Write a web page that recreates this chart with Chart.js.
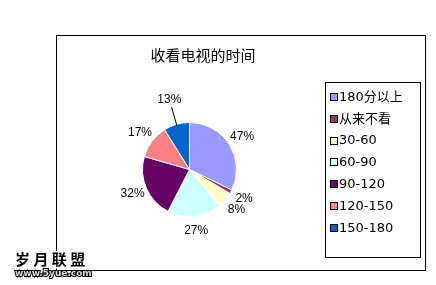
<!DOCTYPE html>
<html>
<head>
<meta charset="utf-8">
<script src="https://cdn.jsdelivr.net/npm/chart.js@4/dist/chart.umd.min.js"></script>
<style>
  html, body { margin: 0; padding: 0; background: #fff; }
  #wrap { width: 436px; height: 285px; }
</style>
</head>
<body>
<div id="wrap"><canvas id="c" width="436" height="285"></canvas></div>
<script>
// 收看电视的时间 — share of viewers per daily TV time bracket
const titleText = '收看电视的时间';
const categories = ['180分以上', '从来不看', '30-60', '60-90', '90-120', '120-150', '150-180'];
const shares = [47, 2, 8, 27, 32, 17, 13];
const sliceColors = ['#9999FF', '#993366', '#FFFFCC', '#CCFFFF', '#660066', '#FF8080', '#0066CC'];
const siteName = '岁月联盟';
const siteUrl = 'www.5yue.com';

const CJK = '"Noto Sans CJK SC"';

// frames, title, legend, value labels and site mark
const decorations = {
  id: 'decorations',
  beforeDraw(chart) {
    const ctx = chart.ctx;
    ctx.save();
    ctx.fillStyle = '#fff';
    ctx.fillRect(0, 0, chart.width, chart.height);
    ctx.strokeStyle = '#000';
    ctx.lineWidth = 1;
    ctx.strokeRect(56.5, 35.5, 369, 235);
    ctx.restore();
  },
  afterDraw(chart) {
    const ctx = chart.ctx;
    ctx.save();

    // title
    ctx.fillStyle = '#000';
    ctx.font = '15px ' + CJK;
    ctx.textAlign = 'center';
    ctx.textBaseline = 'middle';
    ctx.fillText(titleText, 203, 55);

    // legend box
    ctx.strokeStyle = '#000';
    ctx.lineWidth = 1;
    ctx.strokeRect(325.5, 82.5, 95, 175);
    const ds = chart.data.datasets[0];
    ctx.textAlign = 'left';
    ctx.font = '13px "DejaVu Sans", ' + CJK;
    chart.data.labels.forEach((lab, i) => {
      const y = 97 + i * 21.8;
      ctx.fillStyle = ds.backgroundColor[i];
      ctx.fillRect(330.5, Math.round(y) - 3.5, 7, 7);
      ctx.strokeStyle = '#000';
      ctx.strokeRect(330.5, Math.round(y) - 3.5, 7, 7);
      ctx.fillStyle = '#000';
      ctx.fillText(lab, 339, y + 0.5);
    });

    // value labels outside each slice
    const meta = chart.getDatasetMeta(0);
    ctx.font = '12px "Liberation Sans", Arial, sans-serif';
    ctx.textAlign = 'center';
    meta.data.forEach((arc, i) => {
      const p = arc.getProps(['x', 'y', 'startAngle', 'endAngle', 'outerRadius'], true);
      const mid = (p.startAngle + p.endAngle) / 2;
      const last = i === meta.data.length - 1;
      const r = p.outerRadius + (last ? 26 : 15);
      const lx = p.x + Math.cos(mid) * r;
      const ly = p.y + Math.sin(mid) * r;
      if (last) {
        ctx.strokeStyle = '#000';
        ctx.beginPath();
        ctx.moveTo(p.x + Math.cos(mid) * (p.outerRadius - 2), p.y + Math.sin(mid) * (p.outerRadius - 2));
        ctx.lineTo(p.x + Math.cos(mid) * (r - 8), p.y + Math.sin(mid) * (r - 8));
        ctx.stroke();
      }
      ctx.fillStyle = '#000';
      ctx.fillText(ds.data[i] + '%', lx, ly);
    });

    // site mark, bottom left
    ctx.textAlign = 'left';
    ctx.font = 'bold 15px ' + CJK;
    ctx.lineWidth = 3;
    ctx.strokeStyle = '#fff';
    ctx.strokeText(siteName.split('').join(' '), 15, 259);
    ctx.fillStyle = '#000';
    ctx.fillText(siteName.split('').join(' '), 15, 259);
    ctx.font = 'bold 9px "DejaVu Sans", sans-serif';
    ctx.lineWidth = 2;
    ctx.strokeStyle = '#000';
    ctx.strokeText(siteUrl, 15, 274);
    ctx.fillStyle = '#ddd';
    ctx.fillText(siteUrl, 15, 274);

    ctx.restore();
  }
};

new Chart(document.getElementById('c'), {
  type: 'pie',
  data: {
    labels: categories,
    datasets: [{
      data: shares,
      backgroundColor: sliceColors,
      borderColor: '#fff',
      borderWidth: 1,
      hoverOffset: 0,
      offset: 0
    }]
  },
  options: {
    responsive: false,
    devicePixelRatio: 1,
    animation: false,
    events: [],
    layout: { padding: { left: 142, right: 199, top: 122, bottom: 68 } },
    plugins: {
      legend: { display: false },
      title: { display: false },
      tooltip: { enabled: false }
    }
  },
  plugins: [decorations]
});
</script>
</body>
</html>
